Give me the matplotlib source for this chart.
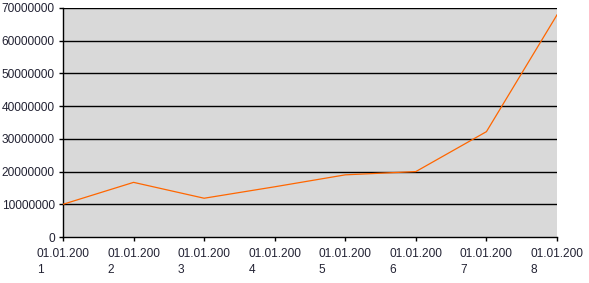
import matplotlib
matplotlib.use("Agg")
import matplotlib.pyplot as plt

categories = ["01.01.200\n1", "01.01.200\n2", "01.01.200\n3", "01.01.200\n4",
              "01.01.200\n5", "01.01.200\n6", "01.01.200\n7", "01.01.200\n8"]
values = [10000000, 16700000, 11850000, 15350000, 19000000, 20000000, 32200000, 67900000]
yticks = [0, 10000000, 20000000, 30000000, 40000000, 50000000, 60000000, 70000000]

plt.rcParams['font.family'] = ['Liberation Sans', 'DejaVu Sans']
fig = plt.figure(figsize=(5.89, 2.83), dpi=100)
ax = fig.add_axes([63/589, 1-237/283, (557-63)/589, (237-8)/283])
ax.set_facecolor('#D9D9D9')
x = list(range(len(values)))
ax.plot(x, values, color='#FF6600', linewidth=0.9, zorder=3)
ax.set_xlim(0, len(values)-1)
ax.set_ylim(0, 70000000)
ax.set_yticks(yticks)
ax.set_yticklabels([str(v) for v in yticks])
ax.set_xticks(x)
ax.set_xticklabels(categories, multialignment='left', linespacing=1.45)
for v in yticks[1:]:
    ax.axhline(v, color='black', linewidth=1.0, zorder=2)
for s in ['top', 'right']:
    ax.spines[s].set_visible(False)
for s in ['left', 'bottom']:
    ax.spines[s].set_color('black')
    ax.spines[s].set_linewidth(1.0)
ax.tick_params(axis='both', direction='out', length=3, width=1, colors='black',
               labelsize=8.6, labelcolor='#222233')
ax.tick_params(axis='y', pad=3)
ax.tick_params(axis='x', pad=5)
fig.savefig('out.png', dpi=100)
